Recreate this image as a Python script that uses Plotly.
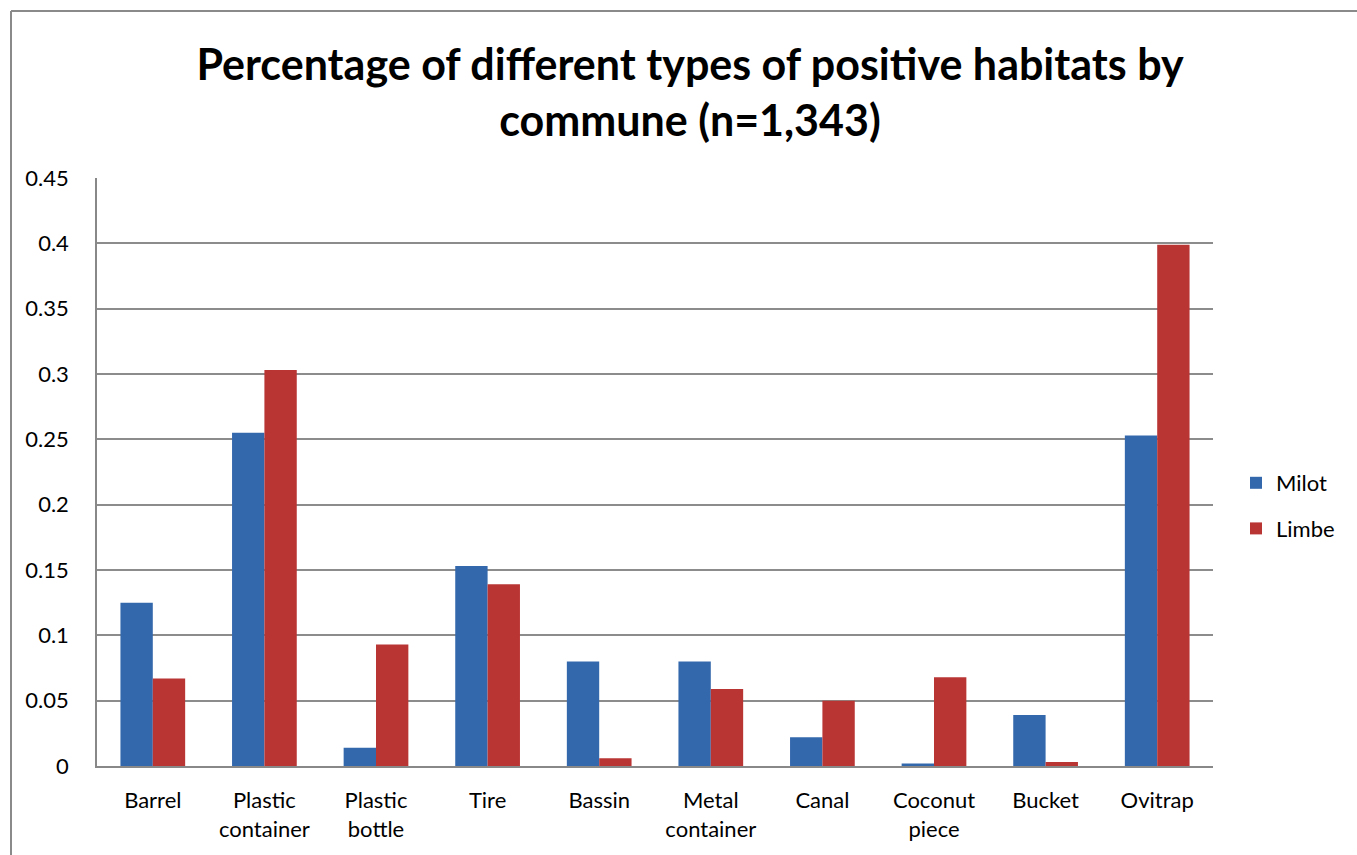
import plotly.graph_objects as go

categories = ["Barrel", "Plastic<br>container", "Plastic<br>bottle", "Tire", "Bassin",
              "Metal<br>container", "Canal", "Coconut<br>piece", "Bucket", "Ovitrap"]
milot = [0.125, 0.255, 0.014, 0.153, 0.080, 0.080, 0.022, 0.002, 0.039, 0.253]
limbe = [0.067, 0.303, 0.093, 0.139, 0.006, 0.059, 0.050, 0.068, 0.003, 0.399]
y_ticks = [0, 0.05, 0.1, 0.15, 0.2, 0.25, 0.3, 0.35, 0.4, 0.45]
y_tick_text = ["0", "0.05", "0.1", "0.15", "0.2", "0.25", "0.3", "0.35", "0.4", "0.45"]

W, H = 1357, 855
L, R, T, B = 97, 144, 178, 89
pw, ph = W - L - R, H - T - B

def px_x(p):
    return (p - L) / pw

def px_y(p):
    return (H - B - p) / ph

fig = go.Figure()
fig.add_trace(go.Bar(x=categories, y=milot, name="Milot", legendgroup="a",
                     marker=dict(color="#3468ad", line=dict(width=0))))
fig.add_trace(go.Bar(x=categories, y=limbe, name="Limbe", legendgroup="b",
                     marker=dict(color="#b93534", line=dict(width=0))))

font = "Lato, 'Open Sans', sans-serif"
fig.update_layout(
    width=W, height=H,
    margin=dict(l=L, r=R, t=T, b=B, autoexpand=False),
    paper_bgcolor="white", plot_bgcolor="white",
    barmode="group", bargap=0.42, bargroupgap=0,
    title=dict(text="<b>Percentage of different types of positive habitats by<br>commune (n=1,343)</b>",
               x=690 / W, xanchor="center", y=1 - 80 / H, yanchor="top",
               font=dict(family=font, size=43, color="black")),
    font=dict(family=font, size=22, color="black"),
    legend=dict(x=px_x(1236), xanchor="left", y=px_y(462), yanchor="top",
                font=dict(size=22), tracegroupgap=14, itemwidth=30,
                traceorder="grouped", bgcolor="rgba(0,0,0,0)"),
    showlegend=True,
    xaxis=dict(showgrid=False, showline=True, linecolor="#888888", linewidth=1.5,
               ticks="", tickfont=dict(size=22), ticklabelstandoff=14, fixedrange=True),
    yaxis=dict(range=[0, 0.45], tickvals=y_ticks, ticktext=y_tick_text,
               showgrid=True, gridcolor="#8c8c8c", gridwidth=1.5,
               showline=True, linecolor="#888888", linewidth=1.5,
               zeroline=False, ticks="", tickfont=dict(size=22), ticklabelstandoff=22),
    shapes=[
        dict(type="line", xref="paper", yref="paper", x0=px_x(11), x1=px_x(W + 20),
             y0=px_y(11), y1=px_y(11), line=dict(color="#8a8a8a", width=2)),
        dict(type="line", xref="paper", yref="paper", x0=px_x(11), x1=px_x(11),
             y0=px_y(11), y1=px_y(H + 20), line=dict(color="#8a8a8a", width=2)),
    ],
)

fig.write_html("out.html")
